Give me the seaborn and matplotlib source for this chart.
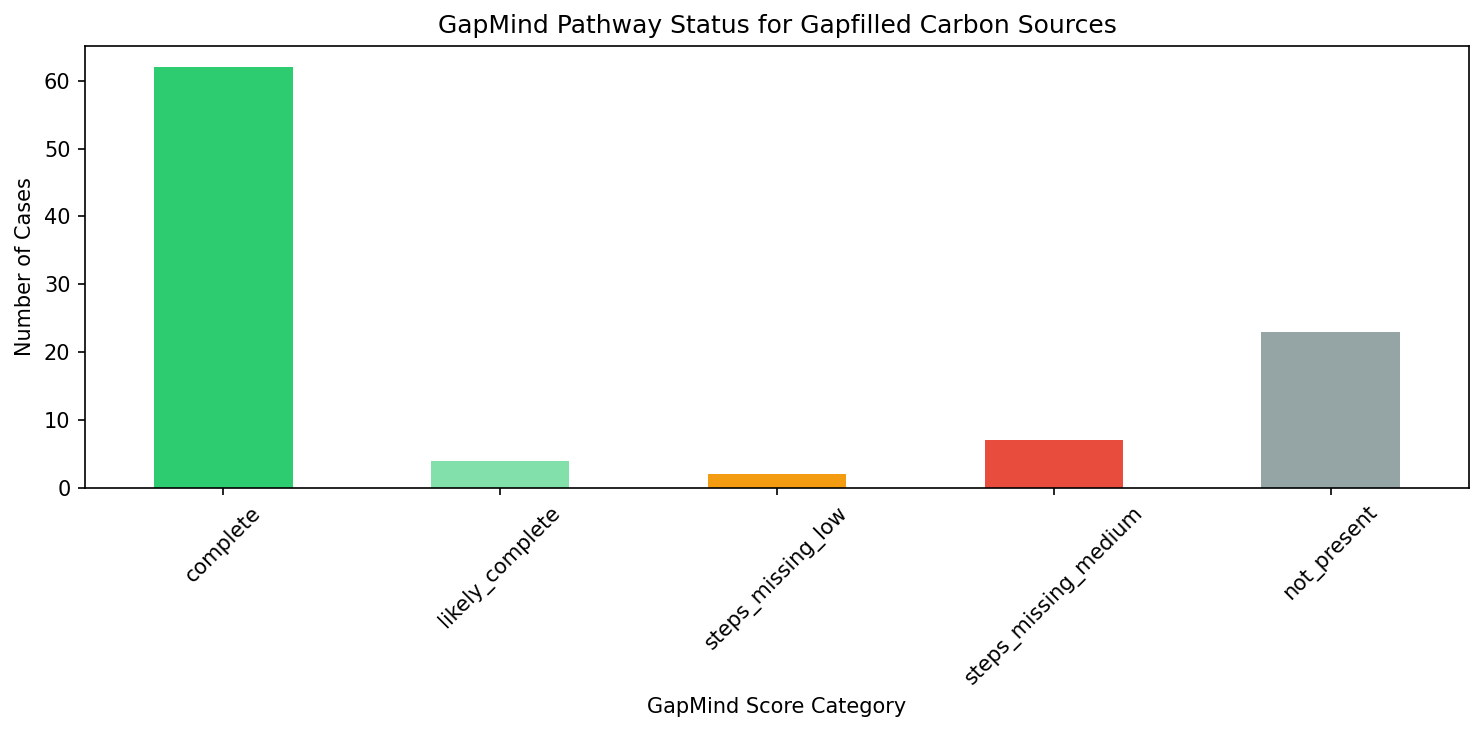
import matplotlib
matplotlib.use("Agg")
import matplotlib.pyplot as plt
import seaborn as sns
import pandas as pd

# categorie gapmind e numero di casi
categorie = ["complete", "likely_complete", "steps_missing_low",
             "steps_missing_medium", "not_present"]
conteggi = [62, 4, 2, 7, 23]
colori = ["#2ecc71", "#82e0aa", "#f39c12", "#e74c3c", "#95a5a6"]

df = pd.DataFrame({"categoria": categorie, "casi": conteggi})

fig, ax = plt.subplots(figsize=(9.893, 4.88), dpi=150)
sns.barplot(data=df, x="categoria", y="casi", hue="categoria",
            palette=colori, width=0.5, saturation=1, legend=False, ax=ax)
ax.set_title("GapMind Pathway Status for Gapfilled Carbon Sources")
ax.set_xlabel("GapMind Score Category")
ax.set_ylabel("Number of Cases")
ax.set_xlim(-0.5, len(categorie) - 0.5)
plt.xticks(rotation=45)
plt.subplots_adjust(left=0.0573, right=0.9899, top=0.9372, bottom=0.3333)
plt.savefig("out.png", dpi=150)
